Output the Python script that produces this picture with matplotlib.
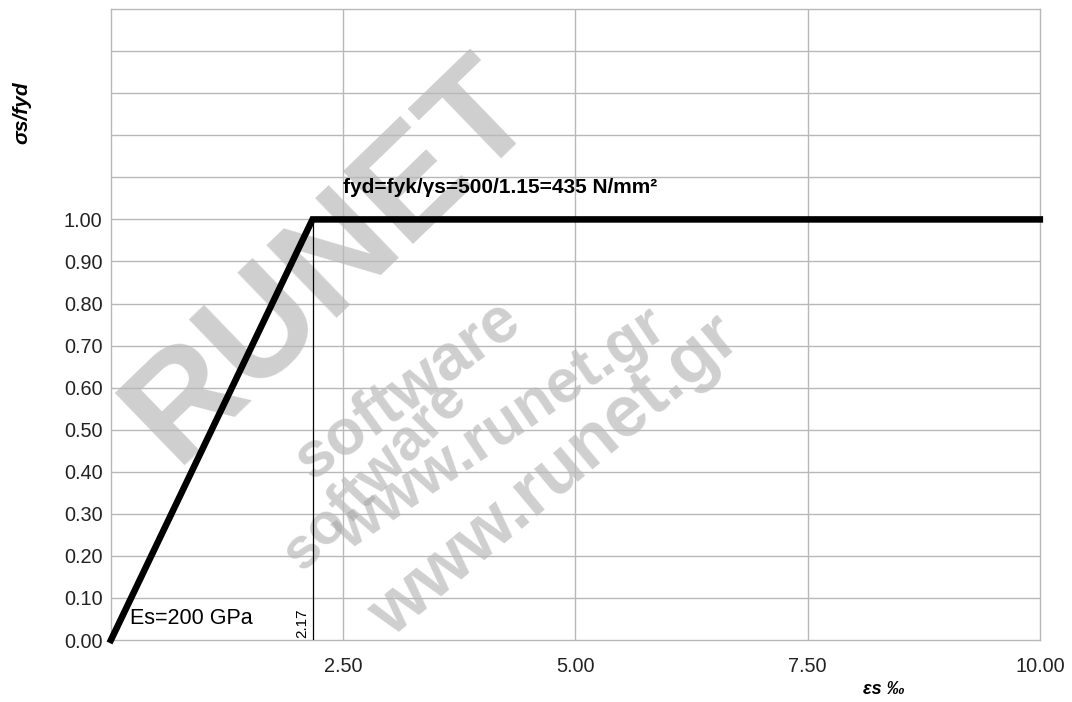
import numpy as np
import matplotlib.pyplot as plt

plt.rcParams['font.family'] = ['Liberation Sans', 'DejaVu Sans']

# diagram naprezen stali zbrojeniowej (bilinearny)
eps = [0.0, 2.17, 10.0]      # odksztalcenie w promilach
sig = [0.0, 1.00, 1.00]      # sigma_s / fyd
eps_y = 2.17                 # odksztalcenie przy uplastycznieniu
xticks = [2.5, 5.0, 7.5, 10.0]
xlabels = ["2.50", "5.00", "7.50", "10.00"]
yticks = [0.0, 0.1, 0.2, 0.3, 0.4, 0.5, 0.6, 0.7, 0.8, 0.9, 1.0]
ylabels = ["%.2f" % v for v in yticks]

fig = plt.figure(figsize=(10.72, 7.02), dpi=100)
ax = fig.add_axes([0.1035, 0.0883, 0.8665, 0.8987])

ax.set_xlim(0, 10)
ax.set_ylim(0, 1.5)

# siatka: co 0.1 w pionie (takze powyzej 1.0), co 2.5 w poziomie
for y in np.arange(0.1, 1.45, 0.1):
    ax.axhline(y, color='#b8b8b8', lw=1.0, zorder=1)
for x in xticks[:-1]:
    ax.axvline(x, color='#b8b8b8', lw=1.0, zorder=1)
for s in ax.spines.values():
    s.set_color('#b8b8b8')
    s.set_linewidth(1.0)

# znak wodny
wm = dict(color='#a0a0a0', alpha=0.5, fontweight='bold', ha='center', va='center', zorder=0.5)
ax.text(2.36, 0.90, "RUNET", fontsize=106, rotation=44, **wm)
ax.text(3.19, 0.594, "software", fontsize=46, rotation=36, **wm)
ax.text(2.84, 0.392, "software", fontsize=42, rotation=46, **wm)
ax.text(4.19, 0.50, "www.runet.gr", fontsize=44, rotation=34, **wm)
ax.text(4.78, 0.39, "www.runet.gr", fontsize=52, rotation=40, **wm)

# linia pionowa przy eps_y
ax.plot([eps_y, eps_y], [0, 1.0], color='black', lw=0.9, zorder=3)
ax.text(eps_y - 0.03, 0.005, "2.17", rotation=90, ha='right', va='bottom', fontsize=11, zorder=4)

# wykres sigma-epsilon
ax.plot(eps, sig, color='black', lw=4.7, solid_joinstyle='miter', zorder=5, clip_on=False)

ax.text(2.5, 1.077, "fyd=fyk/γs=500/1.15=435 N/mm²", fontsize=15, fontweight='bold',
        ha='left', va='center', zorder=4)
ax.text(0.2, 0.05, "Es=200 GPa", fontsize=15.5, ha='left', va='center', zorder=4)

ax.set_xticks(xticks)
ax.set_xticklabels(xlabels)
ax.set_yticks(yticks)
ax.set_yticklabels(ylabels)
ax.tick_params(axis='both', length=0, labelsize=14.3, colors='#222222')
ax.tick_params(axis='x', pad=12)
ax.tick_params(axis='y', pad=6)
ax.grid(False)

fig.text(22 / 1072, 1 - 113 / 702, "σs/fyd", rotation=90, fontsize=15, fontweight='bold',
         fontstyle='italic', ha='center', va='center')
fig.text(884 / 1072, 1 - 689 / 702, "εs ‰", fontsize=13, fontweight='bold',
         fontstyle='italic', ha='center', va='center')

plt.savefig("out.png", dpi=100)
